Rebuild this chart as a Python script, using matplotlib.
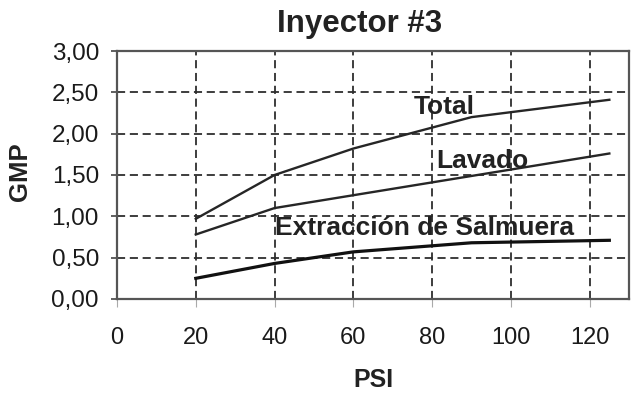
import matplotlib
matplotlib.use("Agg")
import matplotlib.pyplot as plt
from matplotlib.ticker import FuncFormatter

plt.rcParams['font.family'] = ['Liberation Sans', 'DejaVu Sans']

# Pressure (PSI) and flow (GMP) for injector #3
psi_total = [20, 40, 60, 90, 125]
gmp_total = [0.97, 1.50, 1.82, 2.20, 2.41]

psi_lavado = [20, 40, 125]
gmp_lavado = [0.78, 1.10, 1.76]

psi_salmuera = [20, 40, 60, 90, 125]
gmp_salmuera = [0.25, 0.43, 0.57, 0.68, 0.71]

x_ticks = [0, 20, 40, 60, 80, 100, 120]
y_ticks = [0.0, 0.5, 1.0, 1.5, 2.0, 2.5, 3.0]

labels = ["Total", "Lavado", "Extracción de Salmuera"]
label_pos = [(75.3, 2.24), (81.0, 1.59), (40.0, 0.77)]

fig = plt.figure(figsize=(6.39, 4.01), dpi=100)
ax = fig.add_axes([0.1831, 0.2544, 0.8013, 0.6184])

line_color = "#262626"
ax.plot(psi_total, gmp_total, color=line_color, lw=1.7, zorder=3)
ax.plot(psi_lavado, gmp_lavado, color=line_color, lw=1.7, zorder=3)
ax.plot(psi_salmuera, gmp_salmuera, color="#111111", lw=2.3, zorder=3)

for txt, (lx, ly) in zip(labels, label_pos):
    ax.text(lx, ly, txt, fontsize=19, fontweight='bold', color="#222222",
            ha='left', va='baseline', zorder=4)

ax.set_xlim(0, 130)
ax.set_ylim(0, 3.0)
ax.set_xticks(x_ticks)
ax.set_yticks(y_ticks)
ax.yaxis.set_major_formatter(FuncFormatter(lambda v, p: f"{v:.2f}".replace('.', ',')))

# dashed grid
for xv in x_ticks[1:]:
    ax.axvline(xv, color="#2e2e2e", lw=1.3, ls=(0, (4.5, 2.6)), zorder=1)
for yv in y_ticks[1:-1]:
    ax.axhline(yv, color="#2e2e2e", lw=1.3, ls=(0, (4.5, 2.6)), zorder=1)

for side in ['left', 'bottom', 'top', 'right']:
    ax.spines[side].set_color("#555555")
    ax.spines[side].set_linewidth(1.6)

ax.tick_params(axis='x', length=6, width=0.8, color="#aaaaaa", pad=14,
               labelsize=17, labelcolor="#1a1a1a")
ax.tick_params(axis='y', length=4, width=1.2, color="#444444", pad=9,
               labelsize=17.5, labelcolor="#1a1a1a")

ax.set_xlabel("PSI", fontsize=18, fontweight='bold', color="#222222", labelpad=14)
fig.text(20 / 639, 1 - 172 / 401, "GMP", rotation=90, fontsize=18.5,
         fontweight='bold', color="#222222", ha='center', va='center')
fig.text(360 / 639, 1 - 24 / 401, "Inyector #3", fontsize=22.5,
         fontweight='bold', color="#222222", ha='center', va='center')

fig.savefig("out.png", dpi=100)
